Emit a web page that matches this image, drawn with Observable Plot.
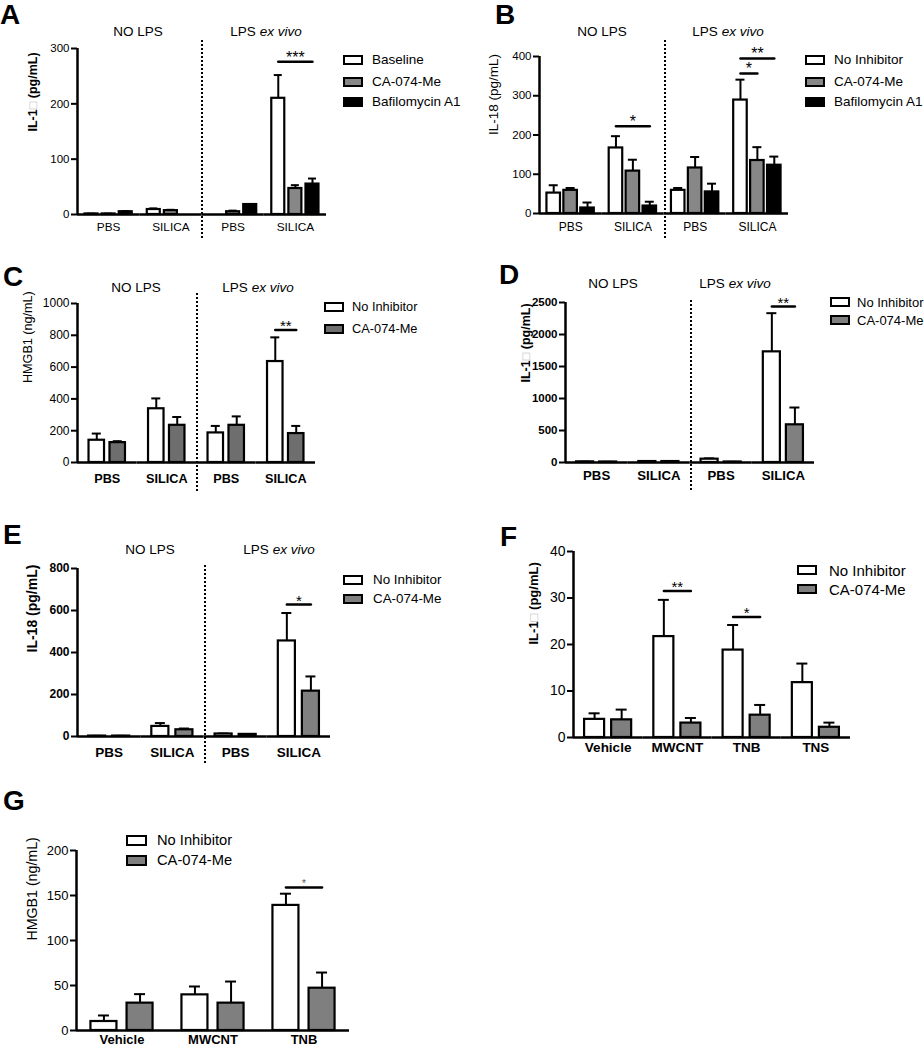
<!DOCTYPE html>
<html><head><meta charset="utf-8">
<script src="https://cdn.jsdelivr.net/npm/d3@7"></script>
<script src="https://cdn.jsdelivr.net/npm/@observablehq/plot@0.6"></script>
<style>
body{margin:0;background:#fff;font-family:'Liberation Sans',Arial,sans-serif;}
#page{position:relative;width:924px;height:1050px;overflow:hidden;background:#fff;}
.abs{position:absolute;line-height:1;white-space:nowrap;color:#000;}
.letter{font-weight:bold;font-size:28px;}
.grp{font-size:13.5px;transform:translateX(-50%);}
.sw{position:absolute;box-sizing:border-box;border:2px solid #000;}
.dots{position:absolute;width:2px;background:repeating-linear-gradient(to bottom,#000 0 2px,transparent 2px 4px);}
svg{overflow:visible;}
</style></head><body><div id="page"></div>
<script>
// ---------------- DATA ----------------
const groupsSilica = ["PBS (NO LPS)", "SILICA (NO LPS)", "PBS (LPS ex vivo)", "SILICA (LPS ex vivo)"];
const ticksSilica = ["PBS", "SILICA", "PBS", "SILICA"];
const groupsParticles4 = ["Vehicle", "MWCNT", "TNB", "TNS"];
const groupsParticles3 = ["Vehicle", "MWCNT", "TNB"];
const seriesA = ["Baseline", "CA-074-Me", "Bafilomycin A1"];
const seriesB = ["No Inhibitor", "CA-074-Me", "Bafilomycin A1"];
const series2 = ["No Inhibitor", "CA-074-Me"];

// A: IL-1β (pg/mL); rows = groups, columns = series
const meanA = [[1, 1, 5], [9, 7, null], [0, 5, 18], [210, 47, 55]];
const errA  = [[0.5, 0.5, 1], [2, 1.5, 0], [0, 2, 0.5], [42, 6, 10]];
const sigA  = [{group: 3, from: 0, to: 2, y: 276, label: "***"}];
const ticksA = [0, 100, 200, 300];

// B: IL-18 (pg/mL)
const meanB = [[52, 59, 14], [167, 108, 19], [59, 116, 55], [289, 135, 123]];
const errB  = [[20, 6, 14], [30, 29, 11], [6, 28, 21], [52, 34, 22]];
const sigB  = [{group: 1, from: 0, to: 2, y: 222, label: "*"},
               {group: 3, from: 0, to: 1, y: 357, label: "*"},
               {group: 3, from: 0, to: 2, y: 395, label: "**"}];
const ticksB = [0, 100, 200, 300, 400];

// C: HMGB1 (ng/mL)
const meanC = [[140, 125], [338, 234], [186, 234], [635, 182]];
const errC  = [[42, 9], [65, 52], [44, 56], [152, 48]];
const sigC  = [{group: 3, from: 0, to: 1, y: 833, label: "**"}];
const ticksC = [0, 200, 400, 600, 800, 1000];

// D: IL-1β (pg/mL)
const meanD = [[10, 8], [15, 15], [52, 8], [1729, 589]];
const errD  = [[3, 2], [4, 3], [12, 2], [604, 270]];
const sigD  = [{group: 3, from: 0, to: 1, y: 2437, label: "**"}];
const ticksD = [0, 500, 1000, 1500, 2000, 2500];

// E: IL-18 (pg/mL)
const meanE = [[2, 2], [48, 32], [12, 10], [455, 216]];
const errE  = [[1, 1], [16, 6], [2, 2], [133, 70]];
const sigE  = [{group: 3, from: 0, to: 1, y: 628, label: "*"}];
const ticksE = [0, 200, 400, 600, 800];

// F: IL-1β (pg/mL)
const meanF = [[3.9, 3.8], [21.7, 3.1], [18.8, 4.8], [11.8, 2.2]];
const errF  = [[1.3, 2.2], [7.9, 1.1], [5.4, 2.2], [4.1, 1.0]];
const sigF  = [{group: 1, from: 0, to: 1, y: 31.5, label: "**"},
               {group: 2, from: 0, to: 1, y: 25.9, label: "*"}];
const ticksF = [0, 10, 20, 30, 40];

// G: HMGB1 (ng/mL)
const meanG = [[10, 30.4], [39.6, 30.4], [139, 47]];
const errG  = [[6.7, 10], [9.3, 24], [13, 17.4]];
const sigG  = [{group: 2, from: 0, to: 1, y: 159, label: "*"}];
const ticksG = [0, 50, 100, 150, 200];

// ---------------- LAYOUT ----------------
const FONT = "'Liberation Sans', Arial, sans-serif";
const page = document.getElementById("page");
const NS = "http://www.w3.org/2000/svg";

function makePanel(c) {
  const G = c.groups.length, n = c.series.length;
  const fw = (c.width - c.ml - c.mr) / G;
  const step = fw / (n - c.pi + 2 * c.po);
  const bw = step * (1 - c.pi);
  const rows = [];
  c.groups.forEach((g, gi) => c.series.forEach((s, si) => {
    const v = c.mean[gi][si];
    if (v == null) return;
    const e = c.err[gi][si];
    rows.push({g, s, v, e, top: v + e});
  }));
  const errRows = rows.filter(d => d.e > 0);
  const sigPts = c.sig.flatMap((d, k) => [
    {id: k, g: c.groups[d.group], s: c.series[d.from], y: d.y},
    {id: k, g: c.groups[d.group], s: c.series[d.to], y: d.y}
  ]);
  const capInset = Math.max(0, (bw - c.cap) / 2);
  const tl = new Map(c.groups.map((g, i) => [g, c.tickLabels[i]]));
  const marks = [
    Plot.ruleY([0], {strokeWidth: 2.5}),
    Plot.ruleX([{g: c.groups[0], s: c.series[0]}], {fx: "g", x: "s", y1: 0, y2: c.yMax, strokeWidth: 2.5, dx: -(c.po * step + bw / 2)}),
    Plot.axisY({ticks: c.ticks, tickFormat: d3.format("d"), tickSize: 6, tickPadding: 2, strokeWidth: 2, fontSize: c.yfs, fontWeight: c.yw, label: null}),
    Plot.axisFx({anchor: "bottom", tickSize: 0, tickPadding: c.xpad, tickFormat: g => tl.get(g), fontSize: c.xfs, fontWeight: c.xw, label: null}),
    Plot.ruleX(errRows, {fx: "g", x: "s", y1: "v", y2: "top", strokeWidth: 2}),
    Plot.tickY(errRows, {fx: "g", x: "s", y: "top", strokeWidth: 2, insetLeft: capInset, insetRight: capInset}),
    Plot.barY(rows, {fx: "g", x: "s", y: "v", fill: "s", stroke: "black", strokeWidth: 2.2}),
    Plot.line(sigPts, {fx: "g", x: "s", y: "y", z: "id", stroke: "black", strokeWidth: 2.5}),
    ...c.sig.map(d => Plot.text([d], {
      fx: e => c.groups[e.group], x: e => c.series[e.from], y: "y", text: "label",
      dx: (d.to - d.from) / 2 * step, dy: c.starDy, lineAnchor: "bottom",
      fontSize: c.starSize, fill: c.starColor || "black"
    })),
    Plot.text([{g: c.groups[0], t: c.ylabel}], {fx: "g", text: "t", frameAnchor: "left", rotate: -90, dx: -c.ylo, fontSize: c.lfs, fontWeight: c.lw})
  ];
  const svg = Plot.plot({
    width: c.width, height: c.height,
    marginLeft: c.ml, marginRight: c.mr, marginTop: c.mt, marginBottom: c.mb,
    fx: {domain: c.groups, padding: 0, round: false, axis: null},
    x: {domain: c.series, paddingInner: c.pi, paddingOuter: c.po, round: false, axis: null},
    y: {domain: [0, c.yMax], axis: null},
    color: {domain: c.series, range: c.fills},
    style: {fontFamily: FONT, fontSize: "12px", color: "black", background: "transparent", overflow: "visible"},
    marks
  });
  svg.querySelectorAll("text").forEach(t => {
    if (t.children.length === 0 && t.textContent.includes("□")) {
      const parts = t.textContent.split("□");
      t.textContent = "";
      parts.forEach((p, i) => {
        if (i) {
          const ts = document.createElementNS(NS, "tspan");
          ts.setAttribute("fill", "#b8b8b8");
          ts.setAttribute("font-weight", "normal");
          ts.textContent = "□";
          t.appendChild(ts);
        }
        t.appendChild(document.createTextNode(p));
      });
    }
  });
  const wrap = document.createElement("div");
  wrap.style.cssText = `position:absolute;left:${c.left}px;top:${c.top}px;`;
  wrap.appendChild(svg);
  page.appendChild(wrap);

  // legend
  const L = c.legend;
  c.series.forEach((s, i) => {
    const y = L.rows[i];
    const sw = document.createElement("div");
    sw.className = "sw";
    sw.style.cssText += `left:${L.sx}px;top:${y - L.sh / 2}px;width:${L.sw}px;height:${L.sh}px;background:${c.fills[i]};`;
    page.appendChild(sw);
    const tx = document.createElement("div");
    tx.className = "abs";
    tx.style.cssText += `left:${L.tx}px;top:${y - 0.488 * L.fs}px;font-size:${L.fs}px;`;
    tx.textContent = s;
    page.appendChild(tx);
  });
  // panel letter
  const le = document.createElement("div");
  le.className = "abs letter";
  le.style.left = c.letter[1] + "px";
  le.style.top = (c.letter[2] - 3.6) + "px";
  le.textContent = c.letter[0];
  page.appendChild(le);
  // group headers and divider
  if (c.header) {
    const h = c.header;
    [["NO LPS", h.x1], ["LPS <i>ex vivo</i>", h.x2]].forEach(([html, x]) => {
      const d = document.createElement("div");
      d.className = "abs grp";
      d.style.left = x + "px";
      d.style.top = (h.y - 1.8) + "px";
      d.innerHTML = html;
      page.appendChild(d);
    });
    const dv = document.createElement("div");
    dv.className = "dots";
    dv.style.left = (h.dx - 1) + "px";
    dv.style.top = h.dy1 + "px";
    dv.style.height = (h.dy2 - h.dy1) + "px";
    page.appendChild(dv);
  }
}

const fills3 = ["#ffffff", "#878787", "#000000"];

makePanel({left: 0, top: 30, width: 335, height: 210, ml: 77, mr: 9, mt: 18, mb: 26,
  groups: groupsSilica, tickLabels: ticksSilica, series: seriesA, mean: meanA, err: errA, sig: sigA,
  yMax: 300, ticks: ticksA, fills: fills3, pi: 0.24, po: 0.44, cap: 8, xpad: 8,
  yfs: 11.5, yw: "normal", xfs: 11.8, xw: "normal", lfs: 12.5, lw: "bold", ylabel: "IL-1□ (pg/mL)", ylo: 45,
  starSize: 16, starDy: 1,
  legend: {sx: 343, sw: 20, sh: 10, tx: 372, rows: [60, 82, 102], fs: 13.5},
  letter: ["A", 0, 5], header: {x1: 138, x2: 266, y: 27, dx: 202, dy1: 40, dy2: 240}});

makePanel({left: 462, top: 30, width: 335, height: 210, ml: 77, mr: 9, mt: 26, mb: 27,
  groups: groupsSilica, tickLabels: ticksSilica, series: seriesB, mean: meanB, err: errB, sig: sigB,
  yMax: 400, ticks: ticksB, fills: fills3, pi: 0.2, po: 0.44, cap: 9, xpad: 9,
  yfs: 11.5, yw: "normal", xfs: 12, xw: "normal", lfs: 13.5, lw: "normal", ylabel: "IL-18 (pg/mL)", ylo: 46,
  starSize: 16, starDy: 1,
  legend: {sx: 805, sw: 20, sh: 10, tx: 834, rows: [60, 82, 102], fs: 13.5},
  letter: ["B", 495, 5], header: {x1: 602, x2: 728, y: 27, dx: 665, dy1: 40, dy2: 240}});

makePanel({left: 0, top: 285, width: 330, height: 215, ml: 77, mr: 15, mt: 18, mb: 38,
  groups: groupsSilica, tickLabels: ticksSilica, series: series2, mean: meanC, err: errC, sig: sigC,
  yMax: 1000, ticks: ticksC, fills: ["#ffffff", "#6e6e6e"], pi: 0.26, po: 0.55, cap: 9, xpad: 11,
  yfs: 12, yw: "normal", xfs: 12.7, xw: "bold", lfs: 12.6, lw: "normal", ylabel: "HMGB1 (ng/mL)", ylo: 50,
  starSize: 15, starDy: 1,
  legend: {sx: 324, sw: 20, sh: 10, tx: 352, rows: [307, 329], fs: 12.8},
  letter: ["C", 3, 267], header: {x1: 136, x2: 258, y: 283, dx: 197, dy1: 293, dy2: 492}});

makePanel({left: 462, top: 285, width: 360, height: 215, ml: 103, mr: 8, mt: 17, mb: 38,
  groups: groupsSilica, tickLabels: ticksSilica, series: series2, mean: meanD, err: errD, sig: sigD,
  yMax: 2500, ticks: ticksD, fills: ["#ffffff", "#808080"], pi: 0.26, po: 0.48, cap: 10, xpad: 8,
  yfs: 11.5, yw: "bold", xfs: 13.2, xw: "bold", lfs: 12.5, lw: "bold", ylabel: "IL-1□ (pg/mL)", ylo: 40,
  starSize: 15, starDy: 1,
  legend: {sx: 830, sw: 20, sh: 10, tx: 857, rows: [302, 320], fs: 13},
  letter: ["D", 499, 265], header: {x1: 613, x2: 735, y: 279, dx: 691, dy1: 300, dy2: 490}});

makePanel({left: 0, top: 550, width: 340, height: 210, ml: 77, mr: 10, mt: 18, mb: 24,
  groups: groupsSilica, tickLabels: ticksSilica, series: series2, mean: meanE, err: errE, sig: sigE,
  yMax: 800, ticks: ticksE, fills: ["#ffffff", "#808080"], pi: 0.29, po: 0.46, cap: 10, xpad: 11,
  yfs: 12, yw: "bold", xfs: 13.5, xw: "bold", lfs: 14, lw: "bold", ylabel: "IL-18 (pg/mL)", ylo: 45,
  starSize: 15, starDy: 1,
  legend: {sx: 343, sw: 20, sh: 10, tx: 373, rows: [580, 599], fs: 13.4},
  letter: ["E", 3, 525], header: {x1: 150, x2: 279, y: 545, dx: 205, dy1: 565, dy2: 763}});

makePanel({left: 462, top: 535, width: 395, height: 225, ml: 111, mr: 7, mt: 16, mb: 23,
  groups: groupsParticles4, tickLabels: groupsParticles4, series: series2, mean: meanF, err: errF, sig: sigF,
  yMax: 40, ticks: ticksF, fills: ["#ffffff", "#7f7f7f"], pi: 0.26, po: 0.41, cap: 11, xpad: 5,
  yfs: 14, yw: "normal", xfs: 13.5, xw: "bold", lfs: 13, lw: "bold", ylabel: "IL-1□ (pg/mL)", ylo: 40,
  starSize: 15, starDy: 1,
  legend: {sx: 797, sw: 20, sh: 10, tx: 829, rows: [570, 589], fs: 15},
  letter: ["F", 500, 527]});

makePanel({left: 0, top: 831, width: 360, height: 215, ml: 76, mr: 11, mt: 19, mb: 16,
  groups: groupsParticles3, tickLabels: groupsParticles3, series: series2, mean: meanG, err: errG, sig: sigG,
  yMax: 200, ticks: ticksG, fills: ["#ffffff", "#7f7f7f"], pi: 0.28, po: 0.4, cap: 11, xpad: 4,
  yfs: 13, yw: "normal", xfs: 13, xw: "bold", lfs: 14.2, lw: "normal", ylabel: "HMGB1 (ng/mL)", ylo: 44,
  starSize: 10, starDy: 0, starColor: "#555",
  legend: {sx: 126, sw: 21, sh: 11, tx: 157, rows: [840, 860], fs: 14.7},
  letter: ["G", 3, 791]});
</script></body></html>
